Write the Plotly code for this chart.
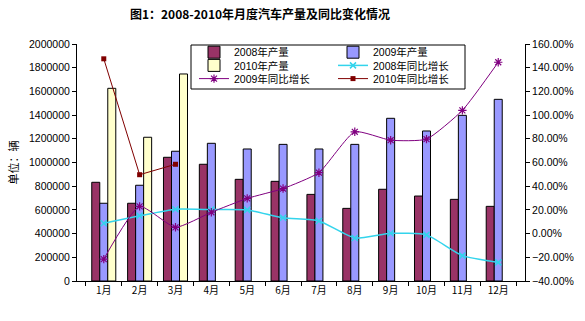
import plotly.graph_objects as go

months = ['1月', '2月', '3月', '4月', '5月', '6月', '7月', '8月', '9月', '10月', '11月', '12月']
prod_2008 = [833000, 656000, 1044000, 985000, 858000, 841000, 731000, 613000, 774000, 717000, 689000, 630000]
prod_2009 = [656000, 808000, 1095000, 1162000, 1114000, 1153000, 1114000, 1153000, 1373000, 1266000, 1398000, 1533000]
prod_2010 = [1626000, 1213000, 1747000, None, None, None, None, None, None, None, None, None]
yoy_2008 = [8.7, 15.0, 20.6, 20.3, 20.0, 13.3, 10.7, -3.7, 0.3, -1.1, -18.6, -24.3]
yoy_2009 = [-21.5, 23.0, 5.3, 18.0, 29.7, 38.0, 51.4, 85.9, 78.8, 79.7, 104.0, 144.6]
yoy_2010 = [147.5, 49.7, 58.5, None, None, None, None, None, None, None, None, None]

W, H = 585, 321
L, R, T, B = 77, 60, 44, 40
PW, PH = W - L - R, H - T - B

def px(x):
    return (x - L) / PW

def py(y):
    return (H - B - y) / PH

CJK = "Noto Sans CJK SC"
CYAN = '#33D4EC'
fig = go.Figure()
fig.add_bar(x=months, y=prod_2008, name='2008年产量', marker=dict(color='#993366', line=dict(color='black', width=1)), legend='legend7')
fig.add_bar(x=months, y=prod_2009, name='2009年产量', marker=dict(color='#9999FF', line=dict(color='black', width=1)), legend='legend2')
fig.add_bar(x=months, y=prod_2010, name='2010年产量', marker=dict(color='#FFFFCC', line=dict(color='black', width=1)), legend='legend3')
fig.add_scatter(x=months, y=yoy_2008, name='2008年同比增长', yaxis='y2', mode='lines+markers',
                line=dict(color=CYAN, width=1.5, shape='spline', smoothing=0.5),
                marker=dict(symbol='x-thin-open', size=6, color=CYAN, line=dict(color=CYAN, width=1.5)),
                legend='legend4')
fig.add_scatter(x=months, y=yoy_2009, name='2009年同比增长', yaxis='y2', mode='lines+markers',
                line=dict(color='#800080', width=1, shape='spline', smoothing=0.5),
                marker=dict(symbol='asterisk-open', size=7, color='#800080', line=dict(color='#800080', width=1.2)),
                legend='legend5')
fig.add_scatter(x=months, y=yoy_2010, name='2010年同比增长', yaxis='y2', mode='lines+markers',
                line=dict(color='#800000', width=1),
                marker=dict(symbol='square', size=5, color='#800000'),
                legend='legend6')

leg_common = dict(bgcolor='rgba(0,0,0,0)', borderwidth=0,
                  font=dict(family='Liberation Sans, ' + CJK, size=10.5, color='black'),
                  yanchor='middle', xanchor='left', orientation='v')
rows = [52.2, 65.4, 78.6]
col1, col2 = 194, 333

fig.update_layout(
    width=W, height=H,
    margin=dict(l=L, r=R, t=T, b=B),
    paper_bgcolor='white', plot_bgcolor='white',
    barmode='group', bargap=0.33, bargroupgap=0,
    title=dict(text='<b>图1：2008-2010年月度汽车产量及同比变化情况</b>', x=260 / W, xanchor='center',
               y=1 - 15 / H, yanchor='middle', font=dict(family=CJK, size=12, color='black')),
    xaxis=dict(type='category', showline=True, linecolor='black', linewidth=1, ticks='outside', tickson='boundaries',
               ticklen=4, tickcolor='black', showgrid=False, tickfont=dict(family=CJK, size=10, color='black')),
    yaxis=dict(range=[0, 2000000], dtick=200000, tickformat='d', showline=True, linecolor='black', linewidth=1,
               ticks='outside', ticklen=4, tickcolor='black', showgrid=False, zeroline=False,
               tickfont=dict(family='Liberation Sans', size=10.5, color='black'),
               title=dict(text='单位：辆', font=dict(family=CJK, size=11, color='black'), standoff=8)),
    yaxis2=dict(range=[-40, 160], dtick=20, tickformat='.2f', ticksuffix='%', overlaying='y', side='right',
                showline=True, linecolor='black', linewidth=1, ticks='outside', ticklen=4, tickcolor='black',
                showgrid=False, zeroline=False, tickfont=dict(family='Liberation Sans', size=10.5, color='black')),
    legend=dict(visible=False),
    legend7=dict(x=px(col1), y=py(rows[0]), **leg_common),
    legend2=dict(x=px(col2), y=py(rows[0]), **leg_common),
    legend3=dict(x=px(col1), y=py(rows[1]), **leg_common),
    legend4=dict(x=px(col2), y=py(rows[1]), **leg_common),
    legend5=dict(x=px(col1), y=py(rows[2]), **leg_common),
    legend6=dict(x=px(col2), y=py(rows[2]), **leg_common),
)
fig.add_shape(type='rect', xref='paper', yref='paper', x0=px(191), x1=px(465), y0=py(89), y1=py(45),
              line=dict(color='black', width=1), fillcolor='rgba(0,0,0,0)', layer='above')

fig.write_html("out.html")
